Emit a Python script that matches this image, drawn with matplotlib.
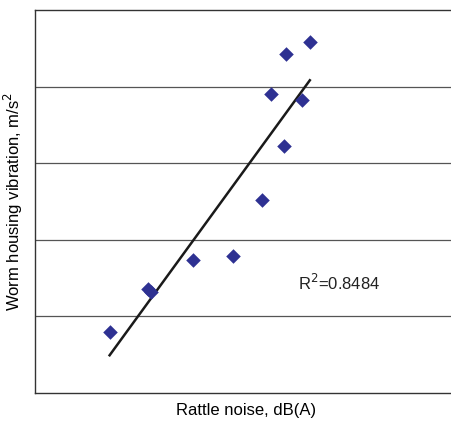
import numpy as np
import matplotlib.pyplot as plt

# rattle noise (arbitrary units) vs worm housing vibration (arbitrary units)
noise = [1.77, 2.68, 2.75, 3.74, 4.70, 5.39, 5.59, 5.90, 5.95, 6.33, 6.52]
vibration = [0.80, 1.36, 1.32, 1.74, 1.79, 2.52, 3.90, 3.22, 4.43, 3.83, 4.58]
r2_text = "R$^2$=0.8484"

fig = plt.figure(figsize=(4.52, 4.21), dpi=100)
ax = fig.add_axes([35/452, 1 - 393/421, 1 - 35/452 + 0.01, 383/421])

coef = np.polyfit(noise, vibration, 1)
xs = np.array([min(noise), max(noise)])
ax.plot(xs, np.polyval(coef, xs), color='#1a1a1a', lw=1.8, zorder=2)
ax.scatter(noise, vibration, marker='D', s=55, color='#2e3192', lw=0, zorder=3)

ax.set_xlim(0, 10)
ax.set_ylim(0, 5)
ax.set_yticks([1, 2, 3, 4])
ax.set_yticklabels([])
ax.set_xticks([])
ax.tick_params(axis='y', length=0)
ax.grid(axis='y', color='#555555', lw=0.9)
for s in ['left', 'bottom', 'top']:
    ax.spines[s].set_color('#333333')
    ax.spines[s].set_linewidth(1.0)
ax.spines['right'].set_visible(False)

ax.text(6.24, 1.34, r2_text, fontsize=12, family='Liberation Sans', color='#222222')
ax.set_xlabel('Rattle noise, dB(A)', fontsize=12, family='Liberation Sans', labelpad=7)
ax.set_ylabel('Worm housing vibration, m/s$^2$', fontsize=12, family='Liberation Sans', labelpad=4)

fig.savefig('out.png', dpi=100)
